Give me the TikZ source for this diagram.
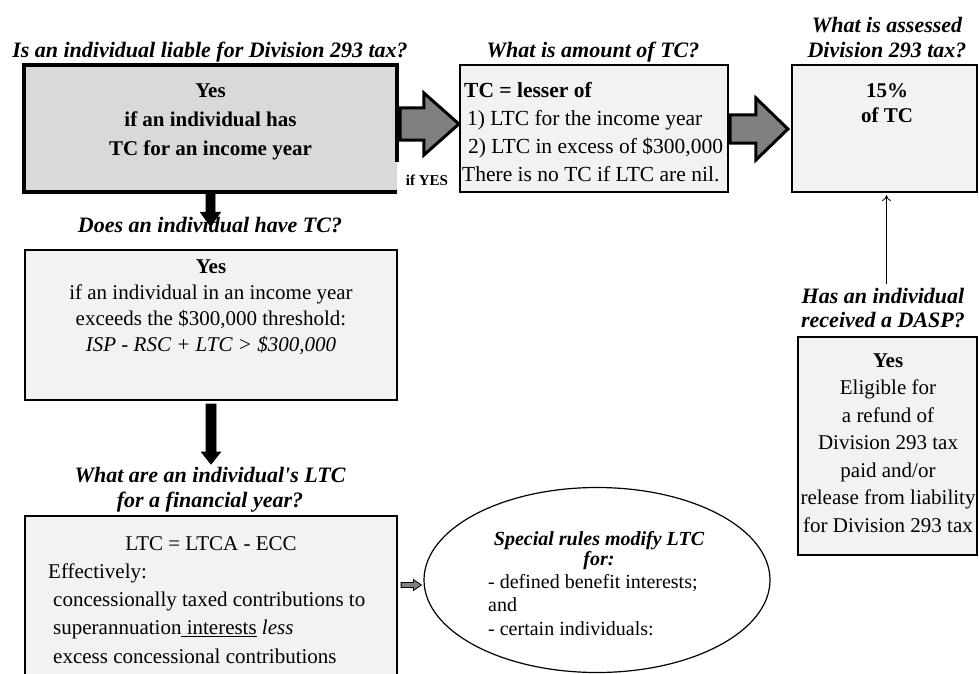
\documentclass[tikz,border=0pt]{standalone}
\usepackage{fontspec}
\setmainfont{Liberation Serif}
\newfontfamily\apofont{Liberation Serif}
\usetikzlibrary{shapes.geometric,calc,arrows.meta}
\definecolor{boxgray}{HTML}{F2F2F2}
\definecolor{darkbox}{HTML}{D9D9D9}
\definecolor{arrowgray}{HTML}{808080}
\newcommand\topstrut{\rule{0pt}{16pt}}
\newcommand\fatH[6]{\draw[#1] let \p1=#2, \p2=#3 in (\x1,\y1+#4pt) -- (\x2-#6pt,\y1+#4pt) -- (\x2-#6pt,\y1+#5pt) -- (\x2,\y1) -- (\x2-#6pt,\y1-#5pt) -- (\x2-#6pt,\y1-#4pt) -- (\x1,\y1-#4pt) -- cycle;}
\newcommand\fatV[6]{\draw[#1] let \p1=#2, \p2=#3 in (\x1-#4pt,\y1) -- (\x1-#4pt,\y2+#6pt) -- (\x1-#5pt,\y2+#6pt) -- (\x1,\y2) -- (\x1+#5pt,\y2+#6pt) -- (\x1+#4pt,\y2+#6pt) -- (\x1+#4pt,\y1) -- cycle;}
\tikzset{
 box/.style={rectangle, draw=black, line width=2.2pt, fill=boxgray, inner sep=0pt},
 ttl/.style={inner sep=0pt, align=center, font=\fontsize{22}{25}\selectfont\bfseries\itshape},
 body/.style={inner sep=0pt, align=center, font=\fontsize{21}{27}\selectfont},
 bigarrow/.style={fill=arrowgray, draw=black, line width=3pt, line join=miter},
 blackarrow/.style={fill=black, draw=black, line width=0.8pt},
 smallarrow/.style={fill=arrowgray, draw=black, line width=0.8pt},
}
\begin{document}
\begin{tikzpicture}[x=1pt,y=-1pt]
\useasboundingbox (0,0) rectangle (979,674);
\clip (0,0) rectangle (979,674);
\fill[white] (0,0) rectangle (979,674);

% box 1
\node[rectangle, fill=darkbox, inner sep=0pt, minimum width=373pt, minimum height=127pt] (b1) at (210.5,128.5) {};
\draw[line width=4.5pt] ($(b1.north east)+(0,97)$) -- (b1.north east) -- (b1.north west) -- (b1.south west) -- (b1.south east);
\node[ttl, anchor=base] (t1) at (210,58) {Is an individual liable for Division 293 tax?};
\node[body, font=\fontsize{21}{29}\selectfont\bfseries, anchor=north] (b1t) at (210.5,81) {\topstrut Yes\\if an individual has\\TC for an income year};
\node[inner sep=0pt, font=\fontsize{15}{18}\selectfont\bfseries, anchor=base] (yes) at (427,185) {if YES};

% box 2
\node[box, minimum width=268pt, minimum height=127pt] (b2) at (594,128.5) {};
\node[ttl, anchor=base] (t2) at (593,58) {What is amount of TC?};
\node[body, align=left, font=\fontsize{21.5}{28}\selectfont, anchor=north west] (b2t) at (462,81) {\topstrut\hspace*{2pt}\textbf{TC = lesser of}\\\hspace*{5pt}1) LTC for the income year\\\hspace*{6pt}2) LTC in excess of \$300,000\\There is no TC if LTC are nil.};

% box 3
\node[box, minimum width=185pt, minimum height=127pt] (b3) at (884.5,128.5) {};
\node[ttl, anchor=north] (t3) at (887,16) {\topstrut What is assessed\\Division 293 tax?};
\node[body, font=\fontsize{21}{25}\selectfont\bfseries, anchor=north] (b3t) at (887,81) {\topstrut 15\%\\of TC};

% box 4
\node[ttl, anchor=base] (t4) at (210,232) {Does an individual have TC?};
\node[box, minimum width=372pt, minimum height=150pt] (b4) at (211,325) {};
\node[body, font=\fontsize{21}{26}\selectfont, anchor=north] (b4t) at (211,257) {\topstrut\textbf{Yes}\\if an individual in an income year\\exceeds the \$300,000 threshold:\\\textit{ISP - RSC + LTC > \$300,000}};

% box 5
\node[ttl, anchor=north] (t5) at (210,466) {\topstrut What are an individual{\apofont'}s LTC\\for a financial year?};
\node[box, minimum width=372pt, minimum height=184pt] (b5) at (211,608) {};
\node[body, anchor=base] (b5a) at (211,550) {LTC = LTCA - ECC};
\node[body, align=left, font=\fontsize{21}{28.3}\selectfont, anchor=north west] (b5b) at (48,562) {\topstrut Effectively:\\\hspace*{5pt}concessionally taxed contributions to\\\hspace*{5pt}superannuation\underline{\ interests} \textit{less}\\\hspace*{5pt}excess concessional contributions};

% ellipse
\node[ellipse, draw=black, line width=1.2pt, minimum width=346pt, minimum height=185pt, inner sep=0pt] (ell) at (597,580) {};
\node[inner sep=0pt, align=center, font=\fontsize{20}{20}\selectfont\bfseries\itshape, anchor=north] (ellt) at (599,529) {\topstrut Special rules modify LTC\\for:};
\node[inner sep=0pt, align=left, font=\fontsize{20}{23.5}\selectfont, anchor=north west] (ellb) at (488,572) {\topstrut - defined benefit interests;\\and\\- certain individuals:};

% DASP
\node[ttl, font=\fontsize{22}{24}\selectfont\bfseries\itshape, anchor=north] (t6) at (883,287) {\topstrut Has an individual\\received a DASP?};
\node[box, minimum width=179pt, minimum height=218pt] (b6) at (887.5,446) {};
\node[body, font=\fontsize{21}{27.5}\selectfont, anchor=north] (b6t) at (888,351) {\topstrut\textbf{Yes}\\Eligible for\\a refund of\\Division 293 tax\\paid and/or\\release from liability\\for Division 293 tax};

% connectors
\fatH{bigarrow}{($(b1.east)+(3,-4.5)$)}{($(b2.west)+(0,-4.5)$)}{16}{31}{35}
\fatH{bigarrow}{($(b2.east)+(1,0.5)$)}{($(b3.west)+(-3,0.5)$)}{14}{31}{32}
\fatV{blackarrow}{($(b1.south)+(0,2)$)}{($(b1.south)+(0,34)$)}{4.5}{10}{14}
\fatV{blackarrow}{($(b4.south)+(0,3)$)}{($(b4.south)+(0,63)$)}{5}{9.5}{12}
\fatH{smallarrow}{($(b5.east)+(3,-23)$)}{($(ell.west)+(-2,5)$)}{2.5}{5.5}{8}
\draw[line width=0.8pt, -{To[length=6pt,width=9pt]}] ($(t6.north -| b3.south)+(2,-3)$) -- ($(b3.south)+(2,2)$);
\end{tikzpicture}
\end{document}
